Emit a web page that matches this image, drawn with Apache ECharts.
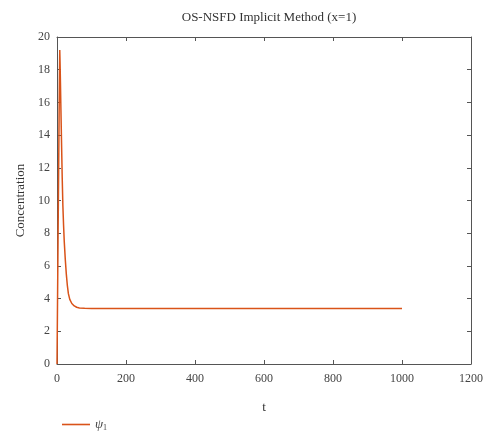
<!DOCTYPE html>
<html>
<head>
<meta charset="utf-8">
<script src="https://cdn.jsdelivr.net/npm/echarts@6/dist/echarts.min.js"></script>
<style>
html,body{margin:0;padding:0;background:#fff;}
#chart{width:500px;height:448px;}
</style>
</head>
<body>
<div id="chart"></div>
<script>
var tValues = [0, 1, 2, 3, 4, 5, 6, 7, 8, 9, 10, 11, 13, 15, 17, 19, 21, 24, 27, 30, 33, 37, 43, 50, 57, 65, 80, 100, 1000];
var psi1Values = [0, 2.5, 5, 7.5, 10, 12.5, 15, 17.4, 19.2, 18.3, 17.2, 16.0, 13.7, 11.5, 9.7, 8.5, 7.5, 6.4, 5.5, 4.8, 4.3, 3.95, 3.7, 3.55, 3.47, 3.43, 3.41, 3.4, 3.4];
var xTicks = [0, 200, 400, 600, 800, 1000, 1200];
var yTicks = [0, 2, 4, 6, 8, 10, 12, 14, 16, 18, 20];
var seriesName = 'ψ1';
var titleText = 'OS-NSFD Implicit Method (x=1)';

var serif = '"Liberation Serif", "DejaVu Serif", serif';
var frame = '#555555';
var lineColor = '#d95319';
var data = tValues.map(function (t, i) { return [t, psi1Values[i]]; });

var chart = echarts.init(document.getElementById('chart'));
function axisCommon() {
  return {
    axisLine: { show: true, onZero: false, lineStyle: { color: frame, width: 1 } },
    axisTick: { show: true, inside: true, length: 4, lineStyle: { color: frame } },
    splitLine: { show: false }
  };
}
chart.setOption({
  animation: false,
  backgroundColor: '#fff',
  title: {
    text: titleText,
    left: '52.8%',
    textAlign: 'center',
    top: 6,
    textStyle: { fontFamily: serif, fontSize: 13, fontWeight: 'normal', color: '#333' }
  },
  grid: { left: 57, right: 29, top: 37, bottom: 84 },
  legend: {
    left: 57,
    top: 413,
    itemWidth: 28,
    itemHeight: 1.6,
    itemGap: 5,
    icon: 'rect',
    data: [{ name: seriesName, itemStyle: { color: lineColor } }],
    formatter: function () { return '{a|ψ}{b|1}'; },
    textStyle: {
      fontFamily: serif, color: '#444',
      rich: {
        a: { fontFamily: serif, fontSize: 13, fontStyle: 'italic', color: '#444' },
        b: { fontFamily: serif, fontSize: 8, color: '#444', padding: [7, 0, 0, 0] }
      }
    }
  },
  xAxis: [
    Object.assign({
      type: 'value', min: xTicks[0], max: xTicks[xTicks.length - 1], interval: xTicks[1] - xTicks[0],
      position: 'bottom',
      name: 't', nameLocation: 'middle', nameGap: 37,
      nameTextStyle: { fontFamily: serif, fontSize: 13, color: '#333' },
      axisLabel: { fontFamily: serif, fontSize: 12, color: '#444', margin: 9, formatter: function (v) { return String(v); } }
    }, axisCommon()),
    Object.assign({
      type: 'value', min: xTicks[0], max: xTicks[xTicks.length - 1], interval: xTicks[1] - xTicks[0],
      position: 'top',
      axisLabel: { show: false }
    }, axisCommon())
  ],
  yAxis: [
    Object.assign({
      type: 'value', min: yTicks[0], max: yTicks[yTicks.length - 1], interval: yTicks[1] - yTicks[0],
      position: 'left',
      name: 'Concentration', nameLocation: 'middle', nameGap: 25,
      nameTextStyle: { fontFamily: serif, fontSize: 13, color: '#333' },
      axisLabel: { fontFamily: serif, fontSize: 12, color: '#444', margin: 7, formatter: function (v) { return String(v); } }
    }, axisCommon()),
    Object.assign({
      type: 'value', min: yTicks[0], max: yTicks[yTicks.length - 1], interval: yTicks[1] - yTicks[0],
      position: 'right',
      axisLabel: { show: false }
    }, axisCommon())
  ],
  series: [{
    name: seriesName,
    type: 'line',
    xAxisIndex: 0,
    yAxisIndex: 0,
    data: data,
    showSymbol: false,
    symbol: 'none',
    smooth: false,
    lineStyle: { color: lineColor, width: 1.5 },
    itemStyle: { color: lineColor }
  }]
});
</script>
</body>
</html>
